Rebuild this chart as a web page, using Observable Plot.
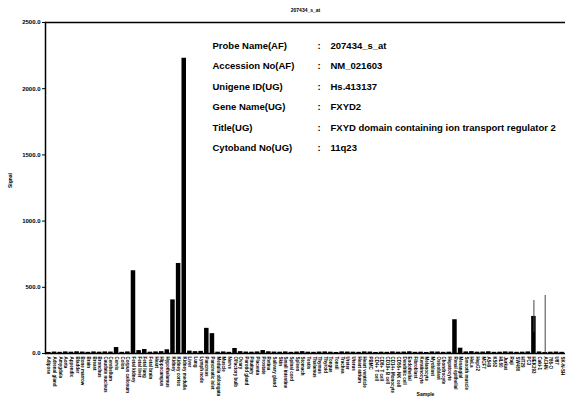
<!DOCTYPE html>
<html>
<head>
<meta charset="utf-8">
<script src="https://cdn.jsdelivr.net/npm/d3@7"></script>
<script src="https://cdn.jsdelivr.net/npm/@observablehq/plot@0.6"></script>
<style>
  html, body { margin: 0; padding: 0; background: #fff; }
  #chart svg { display: block; }
</style>
</head>
<body>
<div id="chart"></div>
<script>
// Probe set shown in the header
const probeTitle = "207434_s_at";

// Annotation table printed in the upper right of the plot
const infoLabels = ["Probe Name(AF)", "Accession No(AF)", "Unigene ID(UG)", "Gene Name(UG)", "Title(UG)", "Cytoband No(UG)"];
const infoValues = ["207434_s_at", "NM_021603", "Hs.413137", "FXYD2", "FXYD domain containing ion transport regulator 2", "11q23"];

// Samples along the x axis
const samples = [
  "Adipose", "Adrenal gland", "Amygdala", "Aorta", "Appendix", "Bladder", "Bone marrow", "Brain",
  "Breast", "Bronchus", "Caudate nucleus", "Cerebellum", "Cervix", "Colon", "Corpus callosum", "Fetal kidney",
  "Fetal liver", "Fetal lung", "Fetal brain", "Heart", "Hippocampus", "Hypothalamus", "Kidney", "Kidney cortex",
  "Kidney medulla", "Liver", "Lung", "Lymph node", "Pancreas", "Pancreatic islet", "Medulla oblongata", "Muscle",
  "Nerve", "Olfactory bulb", "Ovary", "Parotid gland", "Pituitary", "Placenta", "Prostate", "Retina",
  "Salivary gland", "Skin", "Small intestine", "Spinal cord", "Spleen", "Stomach", "Testis", "Thalamus",
  "Thymus", "Thyroid", "Tongue", "Tonsil", "Trachea", "Ureter", "Uterus", "Heart atrium",
  "Heart ventricle", "PBMC", "CD4+ T cell", "CD8+ T cell", "CD19+ B cell", "CD14+ Monocyte", "CD56+ NK cell", "Dendritic cell",
  "Endothelial", "Fibroblast", "Keratinocyte", "Melanocyte", "Myoblast", "Osteoblast", "Chondrocyte", "Hepatocyte",
  "Renal epithelial", "Mesangial", "Smooth muscle", "HeLa", "HepG2", "MCF7", "A549", "K562",
  "HL60", "Jurkat", "Raji", "SW480", "HT29", "PC3", "HEK293", "Caki-1",
  "ACHN", "786-O", "U87", "SK-N-SH"
];

// Signal per sample
const signal = [
  8, 11, 9, 12, 10, 13, 11, 9,
  12, 10, 12, 11, 45, 9, 12, 625,
  22, 30, 10, 12, 14, 28, 405, 680,
  2230, 18, 14, 16, 190, 150, 10, 12,
  9, 38, 14, 11, 10, 12, 22, 13,
  11, 10, 12, 9, 11, 14, 10, 9,
  11, 12, 10, 8, 12, 11, 10, 9,
  12, 11, 8, 10, 9, 12, 10, 11,
  13, 9, 10, 8, 12, 11, 9, 10,
  255, 40, 12, 14, 10, 11, 13, 9,
  10, 12, 11, 9, 10, 12, 280, 12,
  8, 10, 11, 9
];

// Replicate spread drawn as error bars
const errorSamples = ["HEK293", "ACHN"];
const errorSd = [120, 430];

// Y axis ticks
const yTicks = [0, 500, 1000, 1500, 2000, 2500];

const rows = samples.map((sample, i) => ({sample, signal: signal[i]}));
const errors = errorSamples.map((sample, i) => {
  const v = signal[samples.indexOf(sample)];
  return {sample, lo: Math.max(0, v - errorSd[i]), hi: v + errorSd[i]};
});

// Shared settings for the three columns of the annotation table
const tableText = {frameAnchor: "top-left", dy: 12, lineAnchor: "top", lineHeight: 2.15,
  textAnchor: "start", fontSize: 9.5, fontWeight: "bold"};

const chart = Plot.plot({
  width: 570,
  height: 399,
  marginLeft: 45,
  marginRight: 5,
  marginTop: 22,
  marginBottom: 46,
  style: {fontFamily: "'Liberation Sans', Arial, sans-serif", background: "#fff", color: "#000"},
  x: {domain: samples, padding: 0.2, label: null},
  y: {domain: [0, 2500], label: null},
  marks: [
    Plot.barY(rows, {x: "sample", y: "signal", fill: "#000"}),
    Plot.ruleX(errors, {x: "sample", y1: "lo", y2: "hi", stroke: "#444", strokeWidth: 1}),
    Plot.axisY({ticks: yTicks, tickFormat: d => d.toFixed(1), tickSize: 3, tickPadding: 2,
      fontSize: 6, fontWeight: "bold", label: null}),
    Plot.axisX({tickRotate: 90, tickSize: 0, tickPadding: 3, fontSize: 4.5, fontWeight: "bold", label: null}),
    Plot.ruleY([0, 2500], {stroke: "#000", strokeWidth: 1.5}),
    Plot.frame({anchor: "left", stroke: "#000", strokeWidth: 1.5}),
    Plot.text([probeTitle], {frameAnchor: "top", dy: -14, fontSize: 5, fontWeight: "bold"}),
    Plot.text(["Signal"], {frameAnchor: "left", dx: -35, rotate: -90, fontSize: 5, fontWeight: "bold"}),
    Plot.text([infoLabels.join("\n")], {...tableText, dx: 167}),
    Plot.text([infoLabels.map(() => ":").join("\n")], {...tableText, dx: 272}),
    Plot.text([infoValues.join("\n")], {...tableText, dx: 285}),
    Plot.text(["Sample"], {frameAnchor: "bottom", dx: 120, dy: 42, fontSize: 5, fontWeight: "bold"})
  ]
});

document.getElementById("chart").appendChild(chart);
</script>
</body>
</html>
